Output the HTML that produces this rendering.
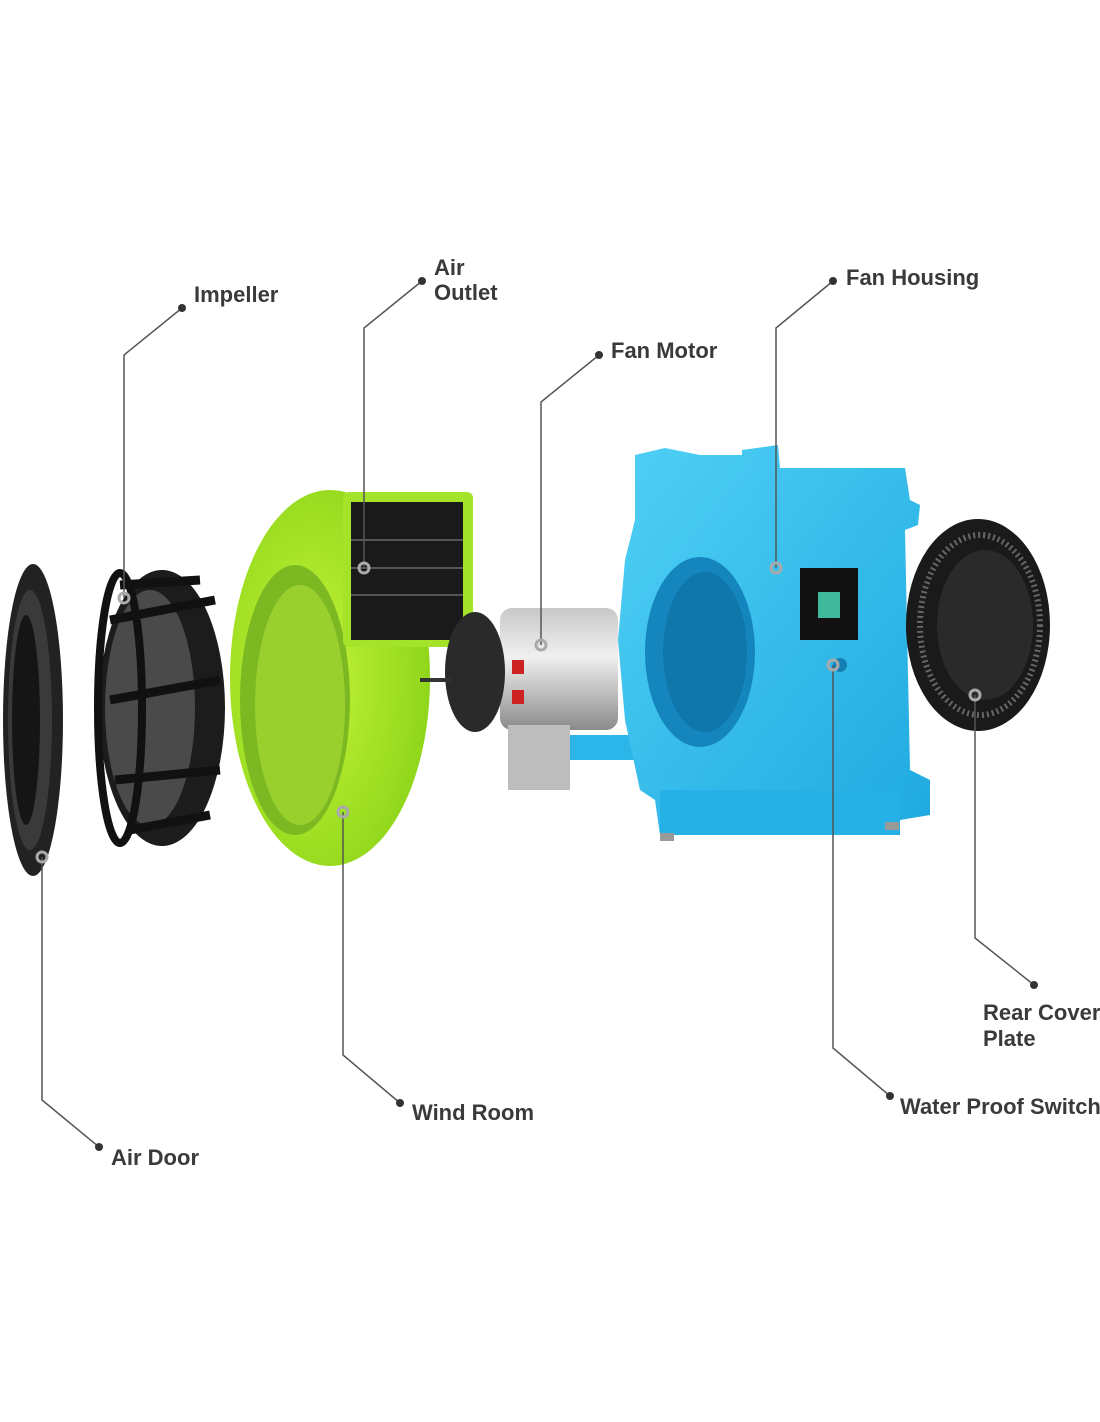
<!DOCTYPE html>
<html><head><meta charset="utf-8"><style>
html,body{margin:0;padding:0;background:#fff;}
svg{display:block}
text{font-family:"Liberation Sans",sans-serif;font-weight:bold;font-size:22px;fill:#3a3a3a}
</style></head><body>
<svg width="1100" height="1422" viewBox="0 0 1100 1422" xmlns="http://www.w3.org/2000/svg">
<defs>
<radialGradient id="g1" cx="0.4" cy="0.5" r="0.6"><stop offset="0" stop-color="#c6f53a"/><stop offset="1" stop-color="#8fd61a"/></radialGradient>
<linearGradient id="mg" x1="0" y1="0" x2="0" y2="1"><stop offset="0" stop-color="#c8c8c8"/><stop offset="0.4" stop-color="#f0f0f0"/><stop offset="1" stop-color="#8a8a8a"/></linearGradient>
<linearGradient id="bg" x1="0" y1="0" x2="1" y2="1"><stop offset="0" stop-color="#4fd0f5"/><stop offset="1" stop-color="#1fa9e0"/></linearGradient>
</defs>
<!-- Air door -->
<ellipse cx="33" cy="720" rx="30" ry="156" fill="#222"/>
<ellipse cx="30" cy="720" rx="22" ry="130" fill="#3a3a3a"/>
<ellipse cx="26" cy="720" rx="14" ry="105" fill="#151515"/>
<!-- Impeller -->
<ellipse cx="162" cy="708" rx="63" ry="138" fill="#1c1c1c"/>
<ellipse cx="150" cy="708" rx="45" ry="118" fill="#4a4a4a"/>
<g stroke="#111" stroke-width="9">
<line x1="110" y1="620" x2="215" y2="600"/><line x1="110" y1="700" x2="220" y2="680"/><line x1="115" y1="780" x2="220" y2="770"/><line x1="130" y1="830" x2="210" y2="815"/><line x1="120" y1="585" x2="200" y2="580"/></g>
<ellipse cx="120" cy="708" rx="22" ry="135" fill="none" stroke="#111" stroke-width="8"/>
<!-- Wind room -->
<ellipse cx="330" cy="678" rx="100" ry="188" fill="url(#g1)"/>
<ellipse cx="295" cy="700" rx="55" ry="135" fill="#7cb821"/>
<ellipse cx="300" cy="705" rx="45" ry="120" fill="#9ad02e"/>
<rect x="343" y="492" width="130" height="155" rx="6" fill="#a3e32a"/>
<rect x="351" y="502" width="112" height="138" fill="#1a1a1a"/>
<g stroke="#555" stroke-width="2"><line x1="351" y1="540" x2="463" y2="540"/><line x1="351" y1="568" x2="463" y2="568"/><line x1="351" y1="595" x2="463" y2="595"/></g>
<!-- Motor -->
<rect x="500" y="608" width="118" height="122" rx="12" fill="url(#mg)"/>
<ellipse cx="475" cy="672" rx="30" ry="60" fill="#2a2a2a"/>
<rect x="508" y="725" width="62" height="65" fill="#bdbdbd"/>
<rect x="512" y="660" width="12" height="14" fill="#c22"/><rect x="512" y="690" width="12" height="14" fill="#c22"/>
<line x1="420" y1="680" x2="450" y2="680" stroke="#333" stroke-width="4"/>
<!-- Fan housing -->
<path d="M570 735 L660 735 L660 760 L570 760 Z" fill="#2bb5e8"/>
<path d="M635 455 L665 448 L700 455 L742 455 L742 450 L778 445 L780 468 L905 468 L910 500 L920 505 L918 525 L905 530 L910 770 L930 780 L930 815 L900 820 L900 830 L820 830 L770 835 L660 835 L655 800 L640 790 L625 720 L618 640 L625 560 L635 520 Z" fill="url(#bg)"/>
<rect x="660" y="790" width="240" height="45" fill="#25b0e6"/>
<rect x="660" y="833" width="14" height="8" fill="#999"/><rect x="885" y="822" width="14" height="8" fill="#999"/>
<ellipse cx="700" cy="652" rx="55" ry="95" fill="#1486bd"/>
<ellipse cx="705" cy="652" rx="42" ry="80" fill="#0f77ab"/>
<rect x="800" y="568" width="58" height="72" fill="#111"/>
<rect x="818" y="592" width="22" height="26" fill="#3fb79a"/>
<circle cx="840" cy="665" r="7" fill="#147fb3"/>
<!-- Rear cover -->
<ellipse cx="978" cy="625" rx="72" ry="106" fill="#1a1a1a"/>
<ellipse cx="980" cy="625" rx="60" ry="90" fill="none" stroke="#666" stroke-width="6" stroke-dasharray="2 3"/>
<ellipse cx="985" cy="625" rx="48" ry="75" fill="#2a2a2a"/>
<!-- Leader lines -->
<g fill="none" stroke="#555" stroke-width="1.5">
<polyline points="182,308 124,355 124,598"/>
<polyline points="422,281 364,328 364,568"/>
<polyline points="599,355 541,402 541,645"/>
<polyline points="833,281 776,328 776,568"/>
<polyline points="975,695 975,938 1034,985"/>
<polyline points="833,665 833,1048 890,1096"/>
<polyline points="343,812 343,1055 400,1103"/>
<polyline points="42,857 42,1100 99,1147"/>
</g>
<g fill="#333">
<circle cx="182" cy="308" r="4"/><circle cx="422" cy="281" r="4"/><circle cx="599" cy="355" r="4"/><circle cx="833" cy="281" r="4"/>
<circle cx="1034" cy="985" r="4"/><circle cx="890" cy="1096" r="4"/><circle cx="400" cy="1103" r="4"/><circle cx="99" cy="1147" r="4"/>
</g>
<g fill="none" stroke="#aaa" stroke-width="3">
<circle cx="124" cy="598" r="5"/><circle cx="364" cy="568" r="5"/><circle cx="541" cy="645" r="5"/><circle cx="776" cy="568" r="5"/>
<circle cx="975" cy="695" r="5"/><circle cx="833" cy="665" r="5"/><circle cx="343" cy="812" r="5"/><circle cx="42" cy="857" r="5"/>
</g>
<text x="194" y="302">Impeller</text>
<text x="434" y="275">Air</text>
<text x="434" y="300">Outlet</text>
<text x="611" y="358">Fan Motor</text>
<text x="846" y="285">Fan Housing</text>
<text x="983" y="1020">Rear Cover</text>
<text x="983" y="1046">Plate</text>
<text x="900" y="1114">Water Proof Switch</text>
<text x="412" y="1120">Wind Room</text>
<text x="111" y="1165">Air Door</text>
</svg>
</body></html>
